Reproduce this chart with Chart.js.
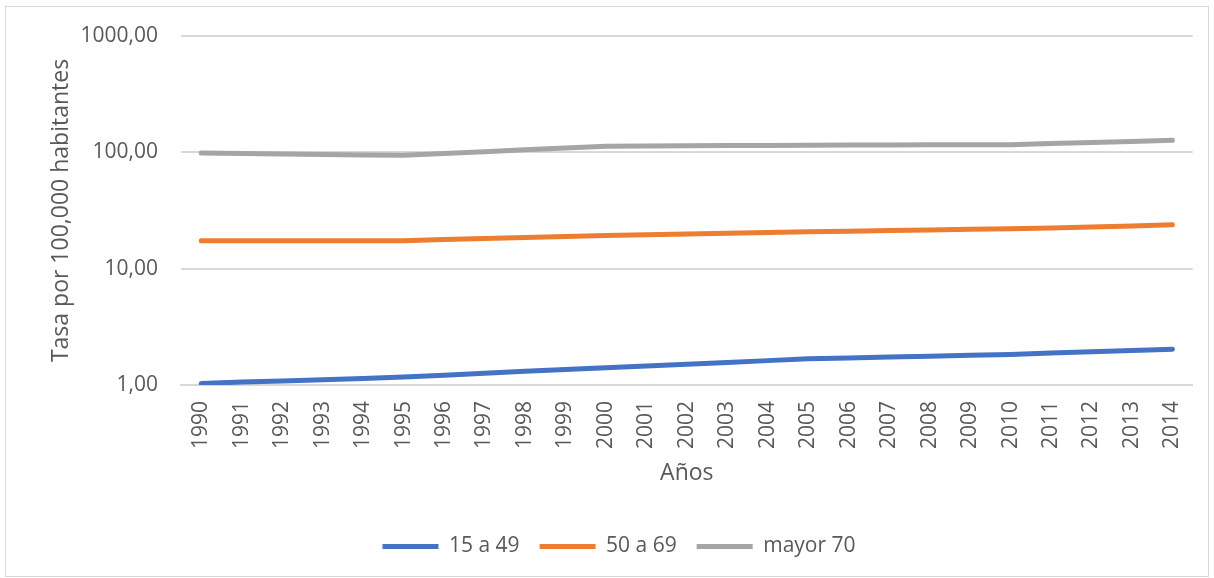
<!DOCTYPE html>
<html lang="es">
<head>
<meta charset="utf-8">
<title>Tasa por 100,000 habitantes</title>
<script src="https://cdn.jsdelivr.net/npm/chart.js@4.4.1/dist/chart.umd.min.js"></script>
<style>
  body { margin: 0; background: #fff; }
  #wrap { position: relative; width: 1214px; height: 578px; }
  #marco { position: absolute; left: 5px; top: 6px; width: 1202px; height: 569px;
           border: 1px solid #d9d9d9; pointer-events: none; }
  canvas { position: absolute; left: 0; top: 0; }
</style>
</head>
<body>
<div id="wrap">
  <canvas id="grafico" width="1214" height="578"></canvas>
  <div id="marco"></div>
</div>
<script>
// --- datos ---
const anios = ['1990','1991','1992','1993','1994','1995','1996','1997','1998','1999','2000','2001','2002',
               '2003','2004','2005','2006','2007','2008','2009','2010','2011','2012','2013','2014'];
const tasa15a49 = [1.03, 1.06, 1.08, 1.11, 1.14, 1.17, 1.21, 1.26, 1.31, 1.36, 1.41, 1.46, 1.51,
                   1.56, 1.62, 1.68, 1.71, 1.74, 1.77, 1.80, 1.83, 1.88, 1.93, 1.98, 2.03];
const tasa50a69 = [17.4, 17.4, 17.4, 17.4, 17.4, 17.4, 17.8, 18.2, 18.5, 18.9, 19.3, 19.6, 19.9,
                   20.2, 20.5, 20.8, 21.0, 21.3, 21.5, 21.8, 22.0, 22.4, 22.8, 23.3, 23.8];
const tasaMayor70 = [98.6, 97.7, 96.8, 95.9, 95.0, 94.2, 97.7, 101.3, 105.0, 108.8, 112.7, 113.2, 113.7,
                     114.2, 114.7, 115.2, 115.5, 115.8, 116.0, 116.2, 116.4, 118.9, 121.5, 124.2, 126.9];
const ticksY = [1, 10, 100, 1000];

const gris = '#595959';
const fuente = { family: "'Open Sans', sans-serif", size: 21 };
const fuenteTitulo = { family: "'Open Sans', sans-serif", size: 23 };

function serie(label, data, color) {
    return {
        label: label,
        data: data,
        borderColor: color,
        backgroundColor: color,
        borderWidth: 5,
        borderCapStyle: 'round',
        borderJoinStyle: 'round',
        pointRadius: 0,
        tension: 0,
        fill: false
    };
}

new Chart(document.getElementById('grafico'), {
    type: 'line',
    data: {
        labels: anios,
        datasets: [
            serie('15 a 49', tasa15a49, '#4472c4'),
            serie('50 a 69', tasa50a69, '#ed7d31'),
            serie('mayor 70', tasaMayor70, '#a5a5a5')
        ]
    },
    options: {
        responsive: false,
        animation: false,
        devicePixelRatio: 1,
        layout: { padding: { top: 36, right: 18, bottom: 11, left: 42 } },
        scales: {
            x: {
                offset: true,
                grid: { display: false, drawTicks: false },
                border: { display: true, color: '#d9d9d9', width: 2 },
                ticks: { color: gris, font: fuente, minRotation: 90, maxRotation: 90, padding: 16, autoSkip: false },
                title: { display: true, text: 'Años', color: gris, font: fuenteTitulo, padding: { top: 0, bottom: 29 } },
                afterFit: scale => { scale.height = 131; }
            },
            y: {
                type: 'logarithmic',
                min: 1,
                max: 1000,
                grid: { color: '#d9d9d9', lineWidth: 2, drawTicks: false },
                border: { display: false },
                afterBuildTicks: scale => { scale.ticks = ticksY.map(v => ({ value: v })); },
                ticks: {
                    color: gris,
                    font: fuente,
                    padding: 23,
                    callback: v => v.toFixed(2).replace('.', ',')
                },
                title: { display: true, text: 'Tasa por 100,000 habitantes', color: gris, font: fuenteTitulo, padding: { top: 6, bottom: 0 } },
                afterFit: scale => { scale.width = 139; }
            }
        },
        plugins: {
            tooltip: { enabled: false },
            legend: {
                position: 'bottom',
                labels: {
                    color: gris,
                    font: fuente,
                    usePointStyle: true,
                    pointStyle: 'line',
                    pointStyleWidth: 56,
                    padding: 20
                }
            }
        }
    }
});
</script>
</body>
</html>
